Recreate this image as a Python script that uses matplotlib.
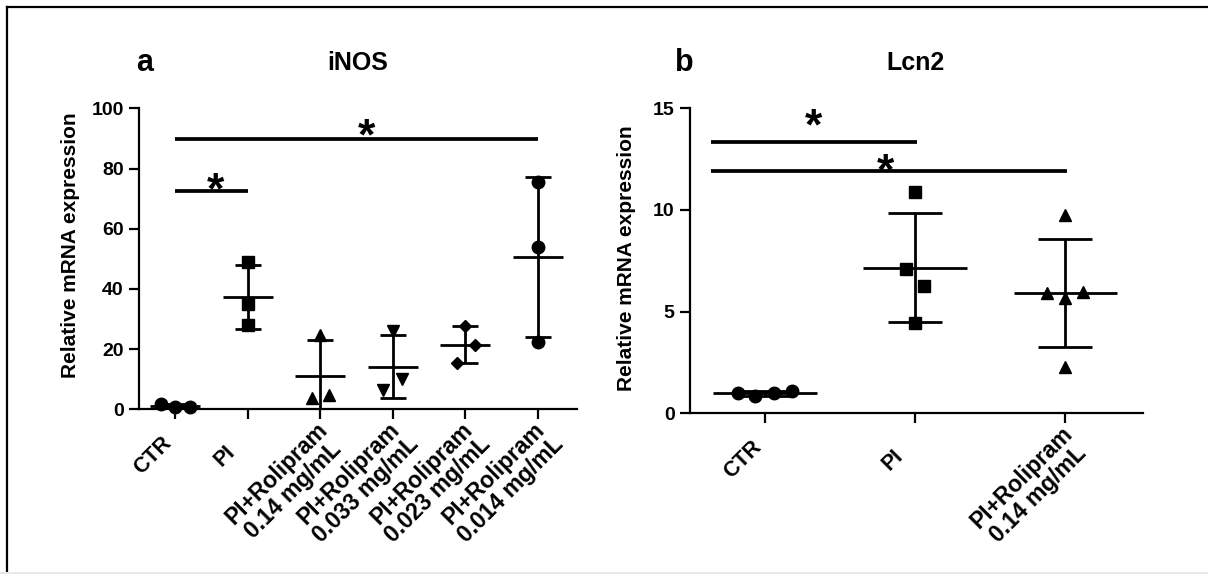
import matplotlib
matplotlib.use('Agg')
import matplotlib.pyplot as plt
from matplotlib.lines import Line2D
from matplotlib.transforms import ScaledTranslation, blended_transform_factory
import numpy as np

plt.rcParams['font.family'] = ['Liberation Sans', 'DejaVu Sans']
plt.rcParams['font.weight'] = 'bold'

# panel a: iNOS
inos_labels = ['CTR', 'PI', 'PI+Rolipram\n0.14 mg/mL', 'PI+Rolipram\n0.033 mg/mL',
               'PI+Rolipram\n0.023 mg/mL', 'PI+Rolipram\n0.014 mg/mL']
inos_values = [
    [1.9, 0.6, 0.7],
    [49.0, 35.1, 27.9],
    [24.8, 3.7, 4.8],
    [26.0, 6.3, 10.0],
    [27.6, 21.4, 15.4],
    [75.5, 54.0, 22.5],
]
inos_jitter = [
    [-0.2, 0.0, 0.21],
    [0.0, 0.0, 0.0],
    [0.0, -0.12, 0.115],
    [0.0, -0.13, 0.12],
    [0.0, 0.13, -0.12],
    [0.0, 0.0, 0.0],
]
inos_markers = ['o', 's', '^', 'v', 'D', 'o']
# (from, to, bar height, star x, star y)
inos_sig = [(0, 1, 72.5, 0.56, 77.0), (0, 5, 89.7, 2.63, 94.8)]

# panel b: Lcn2
lcn2_labels = ['CTR', 'PI', 'PI+Rolipram\n0.14 mg/mL']
lcn2_values = [
    [0.98, 0.85, 0.98, 1.10],
    [10.87, 7.08, 6.26, 4.46],
    [9.75, 5.90, 5.66, 5.98, 2.26],
]
lcn2_jitter = [
    [-0.178, -0.064, 0.058, 0.178],
    [0.0, -0.06, 0.06, 0.0],
    [0.0, -0.12, 0.0, 0.12, 0.0],
]
lcn2_markers = ['o', 's', '^']
lcn2_sig = [(-0.36, 1.01, 13.36, 0.32, 14.76), (-0.36, 2.01, 11.93, 0.8, 12.54)]

W, H = 1208, 574
fig = plt.figure(figsize=(W / 100, H / 100), dpi=100)

# frame lines around the figure
fig.add_artist(Line2D([7 / W, 1], [1 - 7.3 / H, 1 - 7.3 / H], color='black', lw=1.6))
fig.add_artist(Line2D([7.3 / W, 7.3 / W], [1 - 7 / H, 1 - 571 / H], color='black', lw=1.6))
fig.add_artist(Line2D([0, 1], [1 - 572.5 / H, 1 - 572.5 / H], color='#e8e8e8', lw=1.5))

STAR = 32


def draw_panel(rect, labels, values, jitter, markers, sig, ymax, yticks, xright):
    ax = fig.add_axes(rect)
    n = len(labels)
    for i in range(n):
        v = np.array(values[i])
        m = v.mean()
        sd = v.std(ddof=1)
        ax.vlines(i, m - sd, m + sd, color='black', lw=2)
        ax.hlines([m - sd, m + sd], i - 0.18, i + 0.18, color='black', lw=2)
        ax.hlines(m, i - 0.345, i + 0.345, color='black', lw=2)
        ms = 6 if markers[i] == 'D' else (8 if markers[i] == 's' else 9)
        ax.plot(np.array(jitter[i]) + i, v, linestyle='none', marker=markers[i],
                color='black', markersize=ms, clip_on=False, zorder=5)
    star_tr = ax.transData + ScaledTranslation(0, -0.58 * STAR / 72, fig.dpi_scale_trans)
    for x0, x1, y, sx, sy in sig:
        ax.plot([x0, x1], [y, y], color='black', lw=2.7, solid_capstyle='butt')
        ax.text(sx, sy, '*', ha='center', va='baseline', fontsize=STAR,
                fontweight='bold', transform=star_tr)
    ax.set_xlim(-0.5, xright)
    ax.set_ylim(0, ymax)
    ax.set_yticks(yticks)
    ax.set_xticks(range(n))
    ax.set_xticklabels([])
    # rotated category labels, centred on a point below-left of each tick
    base = blended_transform_factory(ax.transData, ax.transAxes)
    for i, lab in enumerate(labels):
        if '\n' in lab:
            dx, dy, fs = -35.5, -72.5, 16.5
        else:
            dx, dy, fs = -22.5, -46.5, 15.5
        tr = base + ScaledTranslation(dx / 100, dy / 100, fig.dpi_scale_trans)
        ax.text(i, 0, lab, transform=tr, rotation=45, rotation_mode='anchor',
                ha='center', va='center', multialignment='center',
                fontsize=fs, fontweight='bold', clip_on=False, linespacing=1.05)
    for t in ax.get_yticklabels():
        t.set_fontsize(14)
    ax.spines['top'].set_visible(False)
    ax.spines['right'].set_visible(False)
    ax.spines['left'].set_linewidth(1.6)
    ax.spines['bottom'].set_linewidth(1.6)
    ax.tick_params(axis='both', length=7, width=1.6, pad=4)
    ax.set_ylabel('Relative mRNA expression', fontsize=15, fontweight='bold')
    return ax


ax1 = draw_panel([139 / W, 1 - 409.3 / H, 438 / W, 301 / H], inos_labels, inos_values,
                 inos_jitter, inos_markers, inos_sig, 100, [0, 20, 40, 60, 80, 100], 5.54)
ax1.yaxis.set_label_coords(-0.134, 0.545)

ax2 = draw_panel([690 / W, 1 - 413.3 / H, 453.4 / W, 305 / H], lcn2_labels, lcn2_values,
                 lcn2_jitter, lcn2_markers, lcn2_sig, 15, [0, 5, 10, 15], 2.52)
ax2.yaxis.set_label_coords(-0.118, 0.508)

fig.text(145 / W, 1 - 63 / H, 'a', ha='center', va='center', fontsize=22, fontweight='bold')
fig.text(358 / W, 1 - 63 / H, 'iNOS', ha='center', va='center', fontsize=18, fontweight='bold')
fig.text(684 / W, 1 - 63 / H, 'b', ha='center', va='center', fontsize=22, fontweight='bold')
fig.text(916 / W, 1 - 63 / H, 'Lcn2', ha='center', va='center', fontsize=18, fontweight='bold')

fig.savefig('out.png', dpi=100)
